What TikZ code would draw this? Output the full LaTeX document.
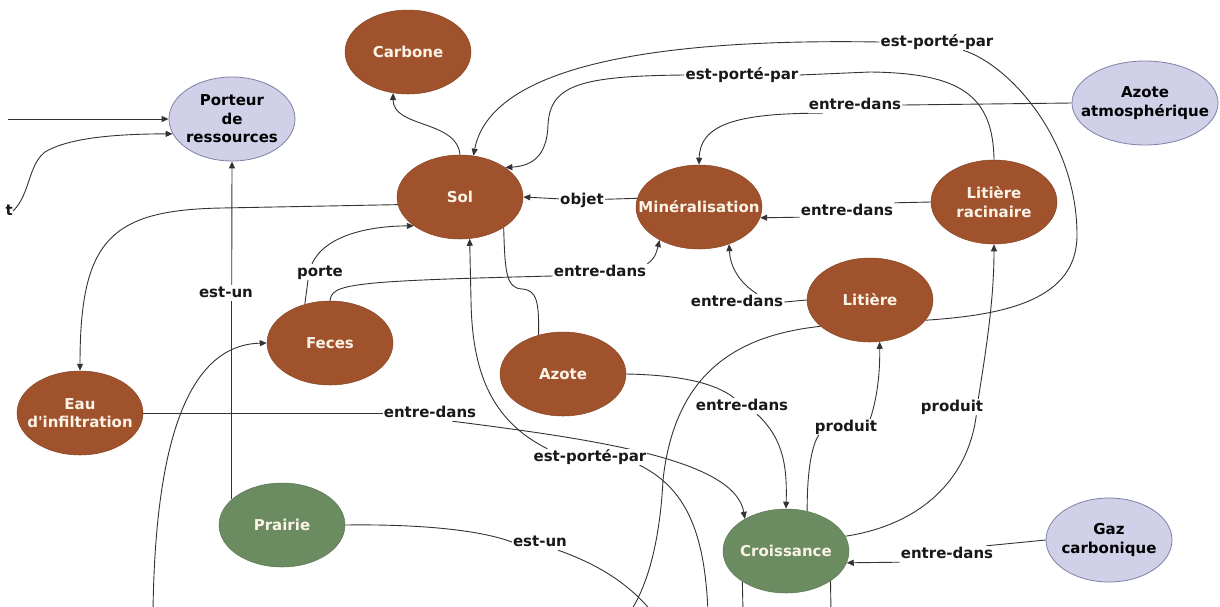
\documentclass[tikz,border=0pt]{standalone}
\usepackage{fontspec}
\setmainfont{DejaVu Sans}
\usetikzlibrary{shapes.geometric,arrows.meta}
\pgfdeclarelayer{edges}
\pgfsetlayers{edges,main}
\definecolor{terre}{HTML}{A0522D}
\definecolor{herbe}{HTML}{6B8B61}
\definecolor{lavande}{HTML}{D0D0E8}
\definecolor{lavbord}{HTML}{8080A8}
\definecolor{creme}{HTML}{FBF3E6}
\definecolor{trait}{HTML}{333333}
% straight apostrophe, kept out of the TeX quote mapping
\newcommand\apos{\XeTeXglyph\XeTeXglyphindex "quotesingle"\relax}
\tikzset{
  concept/.style={ellipse, minimum width=126pt, minimum height=84pt,
    inner xsep=-22pt, inner ysep=0pt, align=center,
    font=\fontsize{15}{18.5}\selectfont\bfseries},
  brun/.style={concept, fill=terre, draw=terre!85!black, line width=0.5pt, text=creme},
  vert/.style={concept, fill=herbe, draw=herbe!85!black, line width=0.5pt, text=creme},
  lav/.style={concept, fill=lavande, draw=lavbord, line width=0.8pt, text=black},
  lien/.style={fill=white, inner sep=1pt, text height=11pt, text depth=3pt,
    font=\fontsize{15}{18}\selectfont\bfseries, text=black!90},
  fil/.style={draw=trait, line width=0.9pt},
  fleche/.style={fil, -{Triangle[length=7pt,width=6pt]}},
}
\begin{document}
\begin{tikzpicture}[x=1pt,y=-1pt]
\useasboundingbox (0,0) rectangle (1220,606);

% concepts
\node[brun] (carbone) at (408,52) {Carbone};
\node[lav]  (porteur) at (232,119) {Porteur\\de\\ressources};
\node[brun] (sol)     at (460,197) {Sol};
\node[brun] (mineral) at (699,207) {Minéralisation};
\node[brun] (litrac)  at (994,202) {Litière\\racinaire};
\node[lav, minimum width=146pt] (azatm) at (1145,103) {Azote\\atmosphérique};
\node[brun] (litiere) at (870,300) {Litière};
\node[brun] (feces)   at (330,343) {Feces};
\node[brun] (azote)   at (563,374) {Azote};
\node[brun] (eau)     at (80,413)  {Eau\\d\apos infiltration};
\node[vert] (prairie) at (282,525) {Prairie};
\node[vert] (croiss)  at (786,551) {Croissance};
\node[lav]  (gaz)     at (1109,540) {Gaz\\carbonique};

% linking phrases
\node[lien] (porte) at (320,272) {porte};
\node[lien] (ed1)   at (600,272) {entre-dans};
\node[lien] (objet) at (582,200) {objet};
\node[lien] (ed2)   at (855,105) {entre-dans};
\node[lien] (ed3)   at (847,211) {entre-dans};
\node[lien] (ed4)   at (737,302) {entre-dans};
\node[lien] (epp1)  at (742,75)  {est-porté-par};
\node[lien] (epp2)  at (937,42)  {est-porté-par};
\node[lien] (ed5)   at (430,413) {entre-dans};
\node[lien] (ed6)   at (742,406) {entre-dans};
\node[lien] (pr1)   at (846,427) {produit};
\node[lien] (pr2)   at (952,407) {produit};
\node[lien] (ed7)   at (947,554) {entre-dans};
\node[lien] (eu1)   at (226,293) {est-un};
\node[lien] (eu2)   at (540,542) {est-un};
\node[lien] (epp3)  at (590,457) {est-porté-par};
\node[lien, fill=none, inner sep=0pt, anchor=base east] (tlab) at (13,215) {t};

% loose ends at the border
\coordinate (o1) at (652,612);
\coordinate (o2) at (708,612);
\coordinate (o3) at (630,612);
\coordinate (o4) at (153,612);
\coordinate (o5) at (743,612);
\coordinate (o6) at (831,612);
\coordinate (o7) at (8,119);

\begin{pgfonlayer}{edges}
\fill[white] (0,0) rectangle (1220,606);
% around Sol
\draw[fleche] (sol.north) .. controls (457,120) and (393,128) .. (carbone.-110);
\draw[fleche] (sol.187) -- (222,208) .. controls (110,210) and (80,240) .. (eau.north);
\draw[fil] (feces.123) -- ([xshift=-12pt]porte.south);
\draw[fleche] ([xshift=-8pt]porte.north) .. controls (325,235) and (370,226) .. (sol.-148);
\draw[fil] (feces.north) .. controls (332,284) and (348,281) .. ([yshift=-4pt]ed1.west);
\draw[fleche] (ed1.north east) .. controls (656,258) and (657,250) .. (mineral.-140);
\draw[fil] (mineral.172) -- (objet);
\draw[fleche] (objet) -- (sol.east);
\draw[fil] (sol.-35) .. controls (505,272) and (506,288) .. (522,289)
  .. controls (537,290) and (539,302) .. (azote.122);
% into Minéralisation
\draw[fil] (azatm.west) -- (ed2.east);
\draw[fleche] ([xshift=15pt]ed2.south west) .. controls (735,113) and (700,125) .. (mineral.north);
\draw[fil] (litrac.west) -- (ed3.north east);
\draw[fleche] ([yshift=2pt]ed3.south west) -- (mineral.-10);
\draw[fil] (litiere.west) -- (ed4.east);
\draw[fleche] ([xshift=20pt]ed4.north) .. controls (738,282) and (730,265) .. (mineral.-51);
% carried by Sol
\draw[fil] (litrac.north) .. controls (993,95) and (960,73) .. (870,72) -- (epp1.east);
\draw[fleche] (epp1.west) .. controls (580,76) and (550,85) .. (548,125)
  .. controls (547,158) and (530,166) .. (sol.33);
\draw[fil] (litiere.-20) .. controls (1005,315) and (1077,300) .. (1077,235)
  .. controls (1077,140) and (1010,65) .. (epp2);
\draw[fleche] (epp2.west) .. controls (640,38) and (490,70) .. (sol.72);
% into Croissance
\draw[fil] (eau.east) -- (ed5.west);
\draw[fleche] ([xshift=-25pt]ed5.south east) .. controls (600,440) and (735,460) .. (croiss.142);
\draw[fil] (azote.east) .. controls (680,375) and (715,383) .. ([xshift=-8pt]ed6.north);
\draw[fleche] ([xshift=15pt]ed6.south) .. controls (785,440) and (787,470) .. (croiss.north);
\draw[fil] (gaz.west) -- ([xshift=-8pt]ed7.north east);
\draw[fleche] (ed7.south west) -- (croiss.-11);
% produced by Croissance
\draw[fil] (croiss.62) .. controls (807,470) and (812,445) .. ([xshift=5pt]pr1.south west);
\draw[fleche] ([xshift=-8pt]pr1.north east) .. controls (878,395) and (880,370) .. (litiere.-77);
\draw[fil] (croiss.14) .. controls (920,525) and (968,480) .. ([xshift=-8pt]pr2.south east);
\draw[fleche] ([xshift=-6pt]pr2.north east) .. controls (986,350) and (994,300) .. (litrac.south);
% Prairie
\draw[fil] (prairie.153) -- (prairie.153 |- eu1.south);
\draw[fleche] (prairie.153 |- eu1.north) -- (porteur.south);
\draw[fil] (prairie.east) .. controls (420,524) and (480,530) .. (eu2.west);
\draw[fil] ([xshift=-10pt]eu2.south east) .. controls (600,565) and (630,585) .. (o1);
% lines leaving the sheet
\draw[fleche] ([xshift=15pt]epp3.north west) .. controls (490,420) and (472,370) .. (471,300) -- (sol.-77);
\draw[fil] ([xshift=-8pt]epp3.south east) .. controls (690,490) and (705,540) .. (o2);
\draw[fil] (litiere.-152) .. controls (740,335) and (675,370) .. (663,480)
  .. controls (660,540) and (648,585) .. (o3);
\draw[fleche] (o4) .. controls (155,450) and (185,345) .. (feces.west);
\draw[fil] (croiss.-145) -- (o5);
\draw[fil] (croiss.-34) -- (o6);
\draw[fleche] (o7) -- (porteur.west);
\draw[fleche] (tlab.east) .. controls (30,195) and (28,165) .. (45,152)
  .. controls (70,137) and (120,134) .. (porteur.-166);
\end{pgfonlayer}
\end{tikzpicture}
\end{document}
